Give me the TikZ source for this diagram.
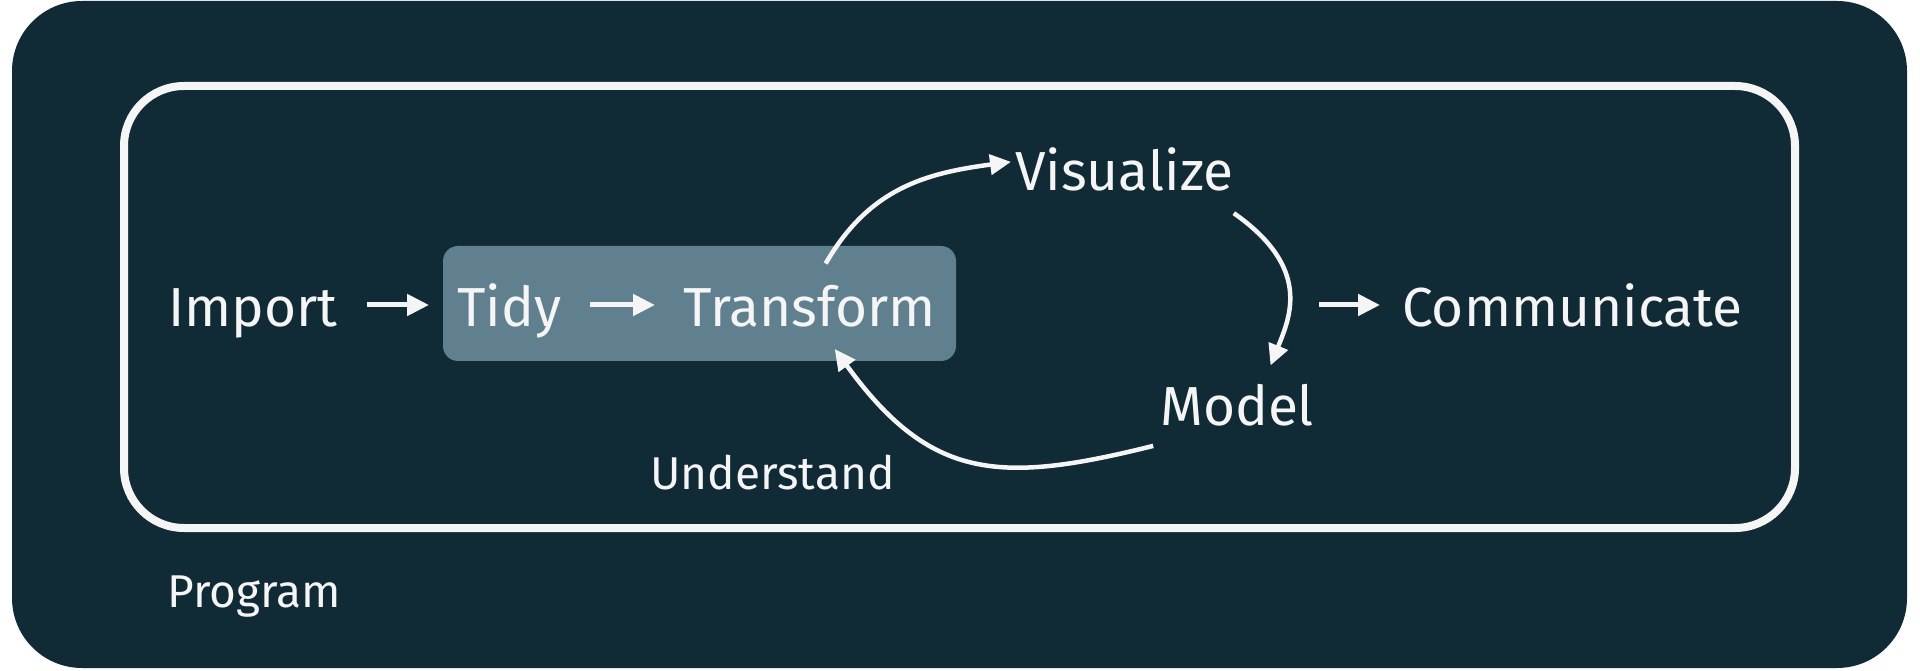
\documentclass[tikz,border=0pt]{standalone}
\usepackage{fontspec}
\setmainfont{Fira Sans}
\usetikzlibrary{arrows.meta}
\definecolor{night}{HTML}{102A36}
\definecolor{slate}{HTML}{60808F}
\definecolor{chalk}{HTML}{F5F5F5}

\begin{document}
\begin{tikzpicture}[x=1pt, y=1pt,
    word/.style={text=chalk, inner sep=0pt, anchor=base west, font=\fontsize{55}{66}\selectfont, text height=52pt, text depth=8pt},
    smallword/.style={word, font=\fontsize{46}{55}\selectfont},
    flow/.style={-{Triangle[length=22pt, width=21pt]}, line width=5pt, chalk, shorten <=29pt, shorten >=28pt},
    roundtrip/.style={-{Triangle[length=21pt, width=20pt]}, line width=4.5pt, chalk}]
    \useasboundingbox (0,0) rectangle (1920,670);
    \fill[night, rounded corners=70pt] (12,2) rectangle (1907,669);
    \draw[chalk, line width=8pt, rounded corners=60pt] (124,142) rectangle (1795,584);
    \fill[slate, rounded corners=15pt] (443,309) rectangle (956,424);

    \node[word] (import) at (168,343) {Import};
    \node[word] (tidy) at (457,343) {Tidy};
    \node[word] (transform) at (683,343) {Transform};
    \node[word] (visualize) at (1015,479) {Visualize};
    \node[word] (model) at (1160,244) {Model};
    \node[word] (communicate) at (1402,343) {Communicate};
    \node[smallword] (understand) at (650,180) {Understand};
    \node[smallword] (program) at (167,63) {Program};
    \coordinate (fork) at (1319,365);

    \draw[flow] (import) -- (tidy);
    \draw[flow] (tidy) -- (transform);
    \draw[flow, shorten <=0pt, shorten >=22pt] (fork) -- (communicate);

    \draw[roundtrip, shorten <=13pt, shorten >=4pt] (transform.72)
        to[out=60, in=187.5, out distance=100pt, in distance=90pt] (visualize.176);
    \draw[roundtrip, shorten >=9pt] ([yshift=-14pt]visualize.south east)
        to[out=-35, in=68, out distance=95pt, in distance=62pt] ([xshift=30pt]model.north);
    \draw[roundtrip, shorten <=7pt, shorten >=17pt] ([yshift=-10pt]model.south west)
        to[out=194, in=-54, out distance=165pt, in distance=180pt] (transform.-63);
\end{tikzpicture}
\end{document}
